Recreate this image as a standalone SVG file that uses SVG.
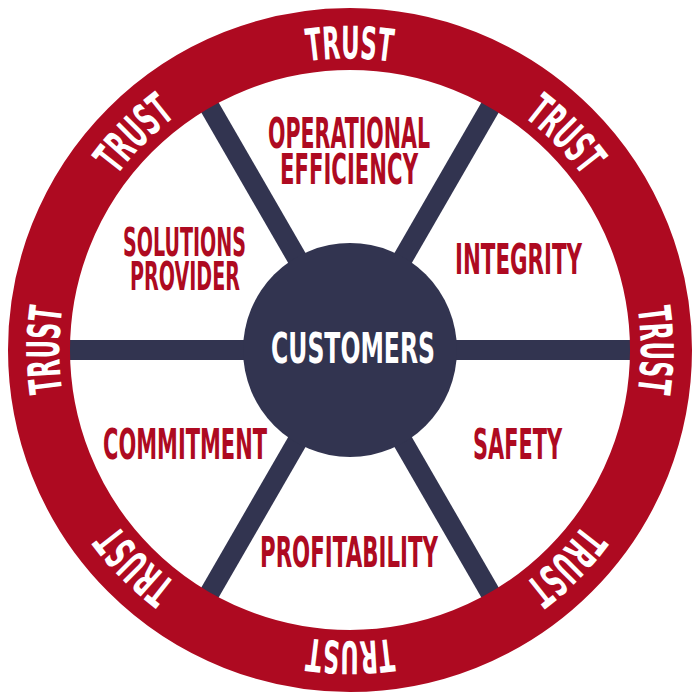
<svg xmlns="http://www.w3.org/2000/svg" xmlns:xlink="http://www.w3.org/1999/xlink" width="700" height="700" viewBox="0 0 700 700">
  <style>
    .lbl { font-family: "DejaVu Sans", "Liberation Sans", sans-serif; font-weight: 700; fill: #AE0A21; text-anchor: middle; }
    .big { font-size: 42.5px; }
    .small { font-size: 38.5px; }
    .ctr { font-family: "DejaVu Sans", "Liberation Sans", sans-serif; font-weight: 700; fill: #FFFFFF; text-anchor: middle; font-size: 42.5px; }
    .trust { font-family: "DejaVu Sans", "Liberation Sans", sans-serif; font-weight: 700; fill: #FFFFFF; font-size: 45px; }
    .spoke { stroke: #323450; stroke-width: 20; stroke-linecap: butt; }
  </style>
  <defs>
    <path id="ringPath" d="M 238.26 80.23 A 292 292 0 0 1 461.74 619.77 A 292 292 0 0 1 238.26 80.23 Z" fill="none"/>
  </defs>
  <rect width="700" height="700" fill="#FFFFFF"/>

  <g id="connectors">
    <line class="spoke" x1="350" y1="350" x2="635" y2="350"/>
    <line class="spoke" x1="350" y1="350" x2="65" y2="350"/>
    <line class="spoke" x1="350" y1="350" x2="492.5" y2="103.2"/>
    <line class="spoke" x1="350" y1="350" x2="207.5" y2="103.2"/>
    <line class="spoke" x1="350" y1="350" x2="492.5" y2="596.8"/>
    <line class="spoke" x1="350" y1="350" x2="207.5" y2="596.8"/>
  </g>

  <g id="ring">
    <circle cx="350" cy="350" r="311" fill="none" stroke="#AE0A21" stroke-width="62"/>
    <text class="trust"><textPath xlink:href="#ringPath" href="#ringPath" startOffset="6.25%" text-anchor="middle" textLength="84" lengthAdjust="spacingAndGlyphs">TRUST</textPath></text>
    <text class="trust"><textPath xlink:href="#ringPath" href="#ringPath" startOffset="18.75%" text-anchor="middle" textLength="84" lengthAdjust="spacingAndGlyphs">TRUST</textPath></text>
    <text class="trust"><textPath xlink:href="#ringPath" href="#ringPath" startOffset="31.25%" text-anchor="middle" textLength="84" lengthAdjust="spacingAndGlyphs">TRUST</textPath></text>
    <text class="trust"><textPath xlink:href="#ringPath" href="#ringPath" startOffset="43.75%" text-anchor="middle" textLength="84" lengthAdjust="spacingAndGlyphs">TRUST</textPath></text>
    <text class="trust"><textPath xlink:href="#ringPath" href="#ringPath" startOffset="56.25%" text-anchor="middle" textLength="84" lengthAdjust="spacingAndGlyphs">TRUST</textPath></text>
    <text class="trust"><textPath xlink:href="#ringPath" href="#ringPath" startOffset="68.75%" text-anchor="middle" textLength="84" lengthAdjust="spacingAndGlyphs">TRUST</textPath></text>
    <text class="trust"><textPath xlink:href="#ringPath" href="#ringPath" startOffset="81.25%" text-anchor="middle" textLength="84" lengthAdjust="spacingAndGlyphs">TRUST</textPath></text>
    <text class="trust"><textPath xlink:href="#ringPath" href="#ringPath" startOffset="93.75%" text-anchor="middle" textLength="84" lengthAdjust="spacingAndGlyphs">TRUST</textPath></text>
  </g>

  <g id="customers">
    <circle cx="350" cy="350" r="107" fill="#323450"/>
    <text class="ctr" x="353" y="363" textLength="164" lengthAdjust="spacingAndGlyphs">CUSTOMERS</text>
  </g>

  <g id="operational-efficiency">
    <text class="lbl big" x="349" y="148" textLength="162" lengthAdjust="spacingAndGlyphs">OPERATIONAL</text>
    <text class="lbl big" x="349" y="184" textLength="138" lengthAdjust="spacingAndGlyphs">EFFICIENCY</text>
  </g>
  <g id="integrity">
    <text class="lbl big" x="518.5" y="274" textLength="127" lengthAdjust="spacingAndGlyphs">INTEGRITY</text>
  </g>
  <g id="safety">
    <text class="lbl big" x="517.5" y="459" textLength="89" lengthAdjust="spacingAndGlyphs">SAFETY</text>
  </g>
  <g id="profitability">
    <text class="lbl big" x="349" y="567" textLength="178" lengthAdjust="spacingAndGlyphs">PROFITABILITY</text>
  </g>
  <g id="commitment">
    <text class="lbl big" x="185" y="459" textLength="164" lengthAdjust="spacingAndGlyphs">COMMITMENT</text>
  </g>
  <g id="solutions-provider">
    <text class="lbl small" x="184.5" y="256" textLength="123" lengthAdjust="spacingAndGlyphs">SOLUTIONS</text>
    <text class="lbl small" x="185" y="290" textLength="110" lengthAdjust="spacingAndGlyphs">PROVIDER</text>
  </g>
</svg>
